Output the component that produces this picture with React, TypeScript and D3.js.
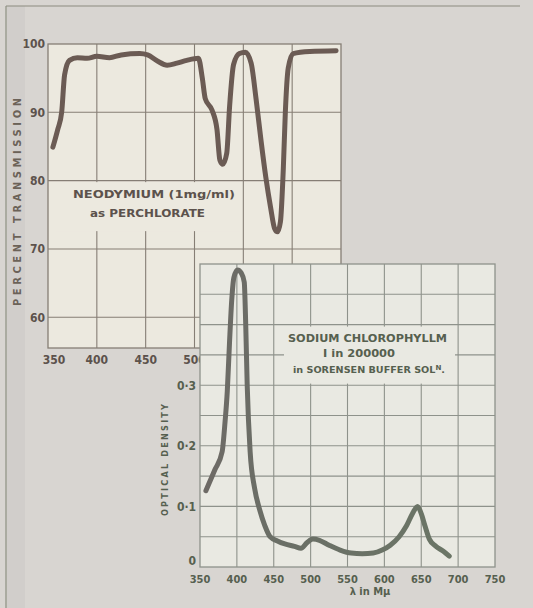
import React from "react";
import * as d3 from "d3";

// ---- Data ----
const neoWavelength = [355, 360, 364, 367, 372, 380, 390, 400, 413, 425, 444, 452, 462, 472, 482, 492, 504, 508, 511, 518, 523, 526, 529, 533, 536, 540, 546, 552, 558, 563, 568, 573, 578, 582, 585, 588, 591, 593, 596, 601, 618, 645];
const neoTransmission = [84.9, 87.5, 90, 95.5, 97.6, 98, 97.9, 98.2, 98, 98.4, 98.6, 98.4, 97.5, 96.9, 97.2, 97.6, 97.9, 95, 92, 90.3, 87.5, 83, 82.4, 84, 91, 97, 98.6, 98.8, 97.2, 92, 86, 80.5, 76, 73, 72.5, 74, 82, 90, 96.5, 98.6, 98.9, 99];

const chlWavelength = [358, 370, 380, 384, 387, 390, 393, 396, 401, 406, 410, 412, 414, 418, 424, 431, 438, 445, 455, 465, 478, 487, 495, 503, 512, 525, 540, 555, 570, 585, 597, 608, 620, 630, 638, 645, 650, 655, 661, 670, 680, 688];
const chlDensity = [0.126, 0.16, 0.19, 0.24, 0.29, 0.37, 0.44, 0.478, 0.49, 0.485, 0.47, 0.4, 0.3, 0.19, 0.13, 0.094, 0.068, 0.05, 0.043, 0.038, 0.034, 0.031, 0.04, 0.046, 0.044, 0.036, 0.028, 0.023, 0.022, 0.023, 0.028, 0.036, 0.05, 0.068, 0.088, 0.1, 0.088, 0.068, 0.046, 0.034, 0.026, 0.018];

const topXTicks = [350, 400, 450, 500, 550, 600, 650];
const topYTicks = [60, 70, 80, 90, 100];
const botXTicks = [350, 400, 450, 500, 550, 600, 650, 700, 750];
const botYGrid = [0.05, 0.1, 0.15, 0.2, 0.25, 0.3, 0.35, 0.4, 0.45];
const botYLabels = [0, 0.1, 0.2, 0.3];
const botYLabelText = ["0", "0·1", "0·2", "0·3"];

const BG = "#d8d5d1";
const CREAM = "#ece9df";
const CREAM2 = "#e9e9e2";
const FONT = "'DejaVu Sans Condensed', 'DejaVu Sans', sans-serif";

export default function App() {
  // top chart scales
  const tx = d3.scaleLinear().domain([350, 650]).range([48, 341]);
  const ty = d3.scaleLinear().domain([55.5, 100]).range([348, 44]);
  // bottom chart scales
  const bx = d3.scaleLinear().domain([350, 750]).range([200, 495]);
  const by = d3.scaleLinear().domain([0, 0.5]).range([567, 264]);

  const neoPts: [number, number][] = neoWavelength.map((w, i) => [w, neoTransmission[i]]);
  const chlPts: [number, number][] = chlWavelength.map((w, i) => [w, chlDensity[i]]);

  const neoLine = d3.line<[number, number]>().x(d => tx(d[0])).y(d => ty(d[1])).curve(d3.curveMonotoneX);
  const chlLine = d3.line<[number, number]>().x(d => bx(d[0])).y(d => by(d[1])).curve(d3.curveMonotoneX);

  const topGrid = "#867e75";
  const botGrid = "#8e928b";
  const topText = "#5c524c";
  const botText = "#56604f";

  // top x labels hidden behind the lower chart are not drawn
  const visibleTopX = topXTicks.filter(v => tx(v) - 12 < bx(350));

  return (
    <svg width={533} height={608} style={{ position: "absolute", left: 0, top: 0 }} fontFamily={FONT}>
      <defs>
        <linearGradient id="chlGrad" x1="200" y1="0" x2="495" y2="0" gradientUnits="userSpaceOnUse">
          <stop offset="0" stopColor="#6e6a66" />
          <stop offset="0.25" stopColor="#6a6e66" />
          <stop offset="1" stopColor="#6b7766" />
        </linearGradient>
      </defs>
      <rect x={0} y={0} width={533} height={608} fill={BG} />
      <rect x={7} y={6} width={18} height={602} fill="#d1cecb" />
      {/* outer frame */}
      <line x1={6} y1={6} x2={520} y2={6} stroke="#8c8c80" strokeWidth={1.2} />
      <line x1={6} y1={6} x2={6} y2={608} stroke="#8c8f80" strokeWidth={1.2} />

      {/* ---- Top chart ---- */}
      <rect x={tx(350)} y={ty(100)} width={tx(650) - tx(350)} height={ty(55.5) - ty(100)} fill={CREAM} />
      {topXTicks.slice(1, -1).map(v => (
        <line key={"tvx" + v} x1={tx(v)} x2={tx(v)} y1={ty(100)} y2={ty(55.5)} stroke={topGrid} strokeWidth={1.1} />
      ))}
      {topYTicks.slice(0, -1).map(v => (
        <line key={"tvy" + v} x1={tx(350)} x2={tx(650)} y1={ty(v)} y2={ty(v)} stroke={topGrid} strokeWidth={1.1} />
      ))}
      <rect x={tx(350)} y={ty(100)} width={tx(650) - tx(350)} height={ty(55.5) - ty(100)} fill="none" stroke={topGrid} strokeWidth={1.3} />
      {/* annotation box */}
      <rect x={56} y={ty(80) + 1.5} width={184} height={49} fill={CREAM} />
      <text x={73} y={198} fontSize={11} fontWeight="bold" fill={topText} textLength={162} lengthAdjust="spacingAndGlyphs">NEODYMIUM (1mg/ml)</text>
      <text x={90} y={217} fontSize={11} fontWeight="bold" fill={topText} textLength={115} lengthAdjust="spacingAndGlyphs">as PERCHLORATE</text>
      <path d={neoLine(neoPts) || ""} fill="none" stroke="#6b5b54" strokeWidth={5} strokeLinecap="round" strokeLinejoin="round" />
      {topYTicks.map(v => (
        <text key={"tyl" + v} x={45} y={ty(v)} dy="0.36em" textAnchor="end" fontSize={12} fontWeight="bold" fill={topText}>{v}</text>
      ))}
      {visibleTopX.map(v => (
        <text key={"txl" + v} x={tx(v) + (v === 350 ? 6 : 0)} y={364} textAnchor="middle" fontSize={12} fontWeight="bold" fill={topText}>{v}</text>
      ))}
      <text transform="translate(21,202) rotate(-90)" textAnchor="middle" fontSize={11} fontWeight="bold" fill="#6b6258" textLength={208} lengthAdjust="spacing">PERCENT TRANSMISSION</text>

      {/* ---- Bottom chart ---- */}
      <rect x={bx(350)} y={by(0.5)} width={bx(750) - bx(350)} height={by(0) - by(0.5)} fill={CREAM2} />
      {botXTicks.slice(1, -1).map(v => (
        <line key={"bvx" + v} x1={bx(v)} x2={bx(v)} y1={by(0.5)} y2={by(0)} stroke={botGrid} strokeWidth={1.1} />
      ))}
      {botYGrid.map(v => (
        <line key={"bvy" + v} x1={bx(350)} x2={bx(750)} y1={by(v)} y2={by(v)} stroke={botGrid} strokeWidth={1.1} />
      ))}
      <rect x={bx(350)} y={by(0.5)} width={bx(750) - bx(350)} height={by(0) - by(0.5)} fill="none" stroke={botGrid} strokeWidth={1.3} />
      {/* annotation box */}
      <rect x={284} y={by(0.4) + 2} width={171} height={57} fill={CREAM2} />
      <text x={288} y={342} fontSize={11} fontWeight="bold" fill={botText} textLength={159} lengthAdjust="spacingAndGlyphs">SODIUM CHLOROPHYLLM</text>
      <text x={323} y={357} fontSize={10.5} fontWeight="bold" fill={botText} textLength={72} lengthAdjust="spacingAndGlyphs">I in 200000</text>
      <text x={293} y={373} fontSize={9.5} fontWeight="bold" fill={botText} textLength={152} lengthAdjust="spacingAndGlyphs">
        in SORENSEN BUFFER SOL<tspan fontSize={7} dy={-3}>N</tspan><tspan dy={3}>.</tspan>
      </text>
      <path d={chlLine(chlPts) || ""} fill="none" stroke="url(#chlGrad)" strokeWidth={5} strokeLinecap="round" strokeLinejoin="round" />
      {botYLabels.map((v, i) => (
        <text key={"byl" + v} x={196} y={by(v) - (v === 0 ? 6 : 0)} dy="0.36em" textAnchor="end" fontSize={12} fontWeight="bold" fill={botText}>{botYLabelText[i]}</text>
      ))}
      {botXTicks.map(v => (
        <text key={"bxl" + v} x={bx(v)} y={583} textAnchor="middle" fontSize={11} fontWeight="bold" fill={botText}>{v}</text>
      ))}
      <text x={370} y={595} textAnchor="middle" fontSize={11} fontWeight="bold" fill={botText}>λ in Mμ</text>
      <text transform="translate(168,460) rotate(-90)" textAnchor="middle" fontSize={9} fontWeight="bold" fill={botText} textLength={112} lengthAdjust="spacing">OPTICAL DENSITY</text>
    </svg>
  );
}
